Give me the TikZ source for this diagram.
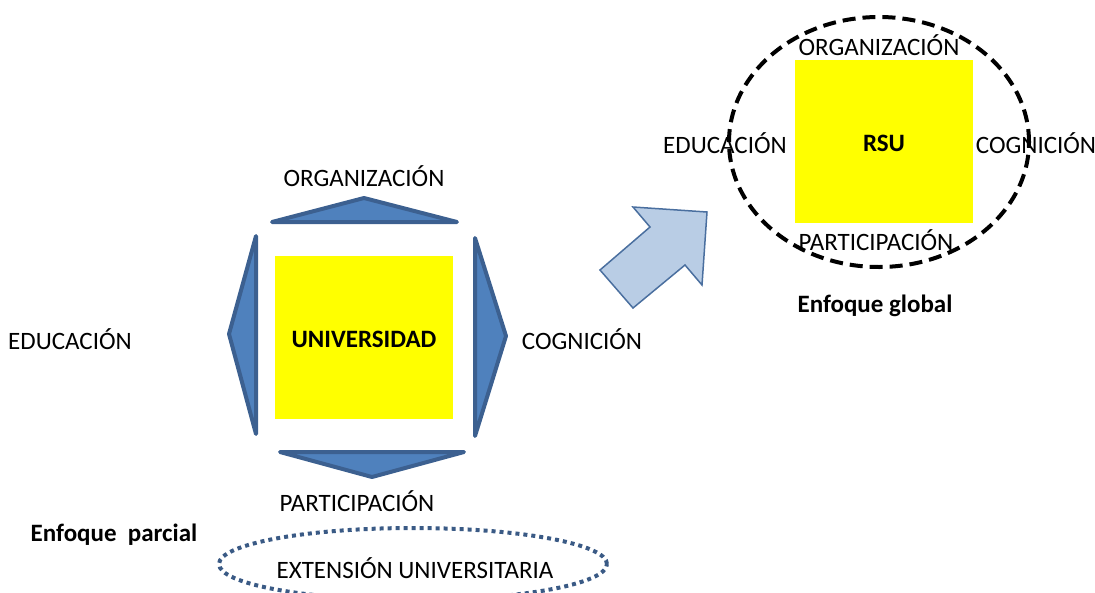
\documentclass[tikz,border=0pt]{standalone}
\usepackage{fontspec}
\setmainfont{Carlito}
\usepackage{xcolor}
\definecolor{triblue}{HTML}{4F81BD}
\definecolor{triedge}{HTML}{3C6090}
\definecolor{arrowfill}{HTML}{B9CDE5}
\definecolor{arrowedge}{HTML}{4A6F9F}
\definecolor{dotblue}{HTML}{3A5A85}
\definecolor{coreyellow}{HTML}{FFFF00}

\begin{document}
\begin{tikzpicture}[x=1pt,y=-1pt,
	lbl/.style={inner sep=0pt, font=\fontsize{25}{29}\selectfont},
	blbl/.style={lbl, font=\fontsize{25}{29}\selectfont\bfseries},
	core/.style={fill=coreyellow, inner sep=0pt},
	tri/.style={fill=triblue, draw=triedge, line width=4pt, line join=round},
	bigarrow/.style={fill=arrowfill, draw=arrowedge, line width=1.5pt}]
	\useasboundingbox (0,0) rectangle (1095,592);
	% enfoque parcial
	\node[core, minimum width=178pt, minimum height=163pt] (uni) at (364,337.5) {};
	\node[blbl] (unitxt) at (364,339.5) {UNIVERSIDAD};
	\draw[tri] (272,222) -- (457,222) -- (364,198) -- cycle;
	\draw[tri] (256,236) -- (256,434) -- (229,334) -- cycle;
	\draw[tri] (475,238) -- (475,436) -- (506,336) -- cycle;
	\draw[tri] (280,452) -- (464,452) -- (372,477) -- cycle;
	\node[lbl] (orgL) at (364,176) {ORGANIZACIÓN};
	\node[lbl] (eduL) at (70,339) {EDUCACIÓN};
	\node[lbl] (cogL) at (582,339) {COGNICIÓN};
	\node[lbl] (parL) at (357,501) {PARTICIPACIÓN};
	\node[blbl] (parcial) at (114,535) {Enfoque\ \ parcial};
	\draw[dotblue, line width=4pt, dash pattern=on 4pt off 4pt] (413,564) ellipse (194pt and 36pt);
	\node[lbl] (ext) at (415,568) {EXTENSIÓN UNIVERSITARIA};
	% flecha
	\draw[bigarrow] (633,207) -- (707,212) -- (702,285) -- (685,265) -- (633,308) -- (600,270) -- (650,227) -- cycle;
	% enfoque global
	\node[core, minimum width=178pt, minimum height=163pt] (rsu) at (884,141.5) {};
	\node[blbl] (rsutxt) at (884,143.5) {RSU};
	\draw[black, line width=4pt, dash pattern=on 13pt off 7pt] (879,142) ellipse (150pt and 125pt);
	\node[lbl] (orgR) at (879,45) {ORGANIZACIÓN};
	\node[lbl] (eduR) at (725,143) {EDUCACIÓN};
	\node[lbl] (cogR) at (1036,143) {COGNICIÓN};
	\node[lbl] (parR) at (876,240) {PARTICIPACIÓN};
	\node[blbl] (global) at (875,306) {Enfoque global};
\end{tikzpicture}
\end{document}
